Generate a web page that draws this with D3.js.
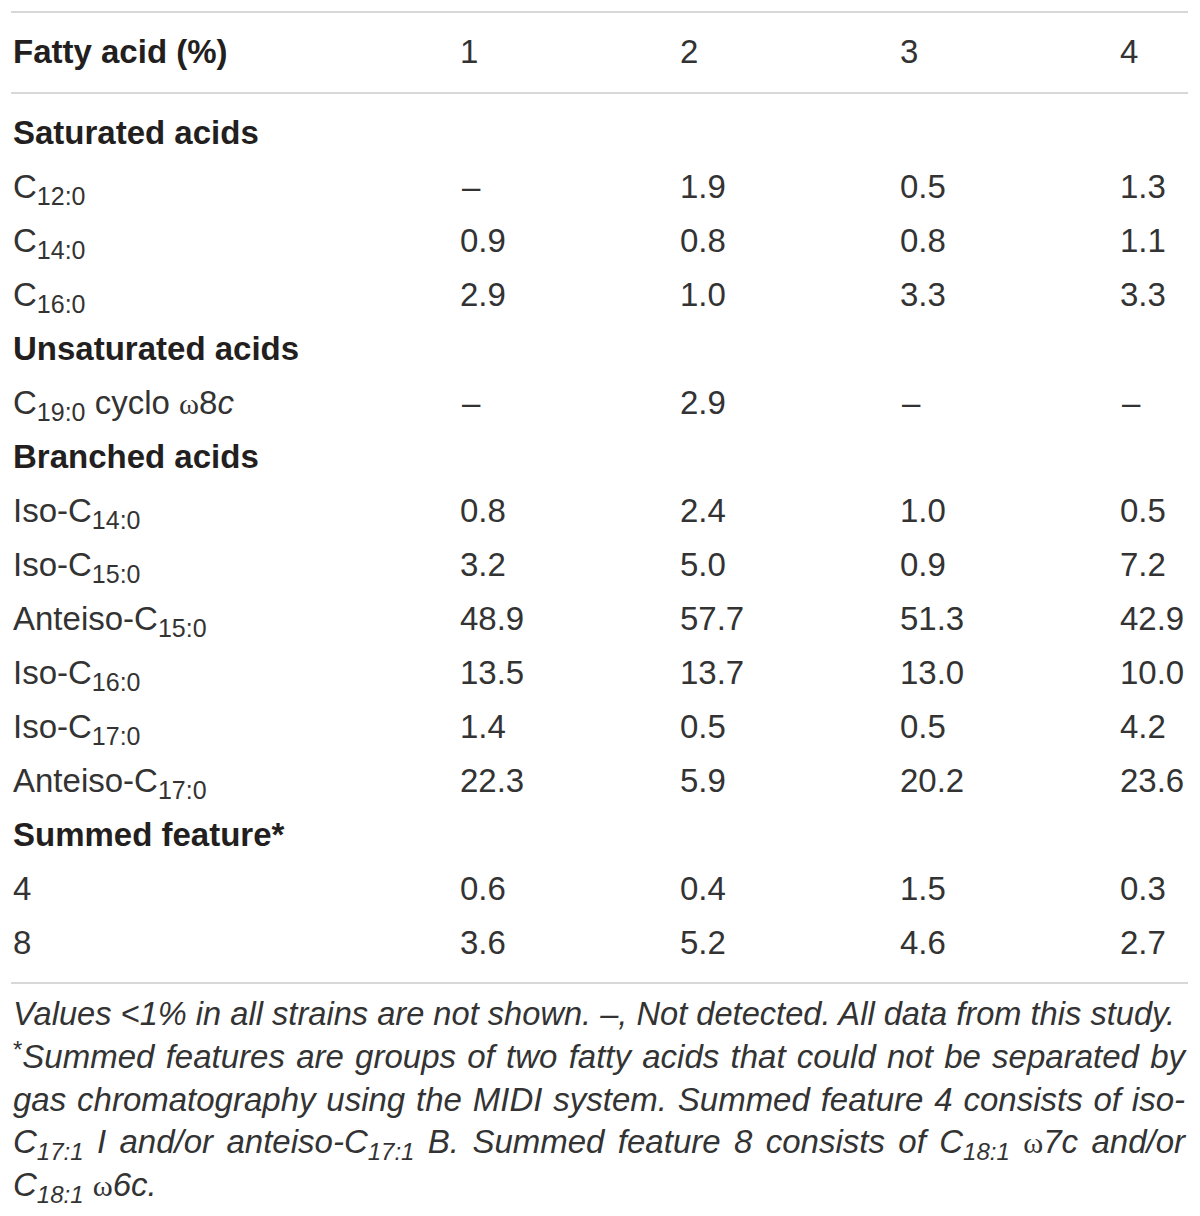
<!DOCTYPE html>
<html><head><meta charset="utf-8">
<script src="https://cdn.jsdelivr.net/npm/d3@7"></script>
<style>body{margin:0;background:#fff}</style>
</head><body><svg id="c" width="1200" height="1216"></svg>
<script>
// ---------- data ----------
const columns = ["1", "2", "3", "4"];
const headerLabel = "Fatty acid (%)";
const groupNames = ["Saturated acids", "Unsaturated acids", "Branched acids", "Summed feature*"];
// markup: _{..} subscript, ^{..} superscript, |..| italic, ω rendered in serif
const acidLabels = [
  "C_{12:0}", "C_{14:0}", "C_{16:0}",
  "C_{19:0} cyclo ω8|c|",
  "Iso-C_{14:0}", "Iso-C_{15:0}", "Anteiso-C_{15:0}", "Iso-C_{16:0}", "Iso-C_{17:0}", "Anteiso-C_{17:0}",
  "4", "8"
];
const acidGroup = [0, 0, 0, 1, 2, 2, 2, 2, 2, 2, 3, 3];
const strain1 = [null, 0.9, 2.9, null, 0.8, 3.2, 48.9, 13.5, 1.4, 22.3, 0.6, 3.6];
const strain2 = [1.9, 0.8, 1.0, 2.9, 2.4, 5.0, 57.7, 13.7, 0.5, 5.9, 0.4, 5.2];
const strain3 = [0.5, 0.8, 3.3, null, 1.0, 0.9, 51.3, 13.0, 0.5, 20.2, 1.5, 4.6];
const strain4 = [1.3, 1.1, 3.3, null, 0.5, 7.2, 42.9, 10.0, 4.2, 23.6, 0.3, 2.7];
const footnoteLines = [
  "Values <1% in all strains are not shown. –, Not detected. All data from this study.",
  "^{*}Summed features are groups of two fatty acids that could not be separated by",
  "gas chromatography using the MIDI system. Summed feature 4 consists of iso-",
  "C_{17:1} I and/or anteiso-C_{17:1} B. Summed feature 8 consists of C_{18:1} ω7c and/or",
  "C_{18:1} ω6c."
];

// ---------- build rows ----------
const strains = [strain1, strain2, strain3, strain4];
const rows = [];
let lastG = -1;
acidLabels.forEach((lab, i) => {
  if (acidGroup[i] !== lastG) { rows.push({type: "group", label: groupNames[acidGroup[i]]}); lastG = acidGroup[i]; }
  rows.push({type: "acid", label: lab, values: strains.map(s => s[i])});
});

const svg = d3.select("#c");
const FONT = "'Liberation Sans', Arial, Helvetica, sans-serif";
const TXT = "#333333";
const BOLD = "#231f20";
const x = d3.scalePoint().domain(columns).range([460, 1120]);
const y = d3.scalePoint().domain(d3.range(rows.length)).range([144, 954]);
const labelX = 13;
const fmt = d3.format(".1f");

// rules
const rules = [12, 93, 983];
svg.selectAll("line.rule").data(rules).join("line")
  .attr("x1", 11).attr("x2", 1188).attr("y1", d => d).attr("y2", d => d)
  .attr("stroke", "#cbcbcb").attr("stroke-width", 1.6);

// rich text helper
function rich(textSel, str, o) {
  const parts = str.split(/(_\{[^}]*\}|\^\{[^}]*\}|\|[^|]*\||ω)/).filter(s => s.length);
  let shift = 0;
  parts.forEach(p => {
    let t = p, size = o.size, dy = 0, style = o.italic ? "italic" : "normal", fam = FONT;
    if (p.startsWith("_{")) { t = p.slice(2, -1); size = o.sub; dy = o.subShift; }
    else if (p.startsWith("^{")) { t = p.slice(2, -1); size = o.sub; dy = -o.supShift; style = "normal"; }
    else if (p.startsWith("|")) { t = p.slice(1, -1); style = "italic"; }
    else if (p === "ω") { fam = "'Liberation Serif', 'DejaVu Serif', serif"; style = "normal"; size = o.size * 0.92; }
    textSel.append("tspan").attr("dy", dy - shift).attr("font-size", size)
      .attr("font-style", style).attr("font-family", fam).text(t);
    shift = dy;
  });
}

// header
svg.append("text").attr("x", labelX).attr("y", 63).attr("font-family", FONT)
  .attr("font-size", 33).attr("font-weight", "bold").attr("fill", BOLD).text(headerLabel);
svg.selectAll("text.colh").data(columns).join("text").attr("class", "colh")
  .attr("x", d => x(d)).attr("y", 63).attr("font-family", FONT).attr("font-size", 33)
  .attr("fill", TXT).text(d => d);

// body rows
rows.forEach((r, i) => {
  const t = svg.append("text").attr("x", labelX).attr("y", y(i)).attr("font-family", FONT)
    .attr("font-size", 33).attr("fill", TXT);
  if (r.type === "group") {
    t.attr("font-weight", "bold").attr("fill", BOLD).text(r.label);
  } else {
    rich(t, r.label, {size: 33, sub: 25, subShift: 7, supShift: 10, italic: false});
    svg.selectAll(null).data(r.values.map((v, k) => ({v, c: columns[k]}))).join("text")
      .attr("x", d => x(d.c) + (d.v === null ? 2 : 0)).attr("y", y(i))
      .attr("font-family", FONT).attr("font-size", 33).attr("fill", TXT)
      .text(d => d.v === null ? "–" : fmt(d.v));
  }
});

// footnote
const fy = d3.scaleLinear().domain([0, footnoteLines.length - 1]).range([1025, 1196]);
const targets = [1162, 1172, 1172, 1172, null];
footnoteLines.forEach((line, i) => {
  const t = svg.append("text").attr("x", labelX).attr("y", fy(i)).attr("font-family", FONT)
    .attr("font-size", 33).attr("font-style", "italic").attr("fill", "#333");
  rich(t, line, {size: 33, sub: 24, subShift: 7, supShift: 10, italic: true});
  const target = targets[i];
  if (target) {
    const nat = t.node().getComputedTextLength();
    if (nat > target) {
      t.attr("textLength", target).attr("lengthAdjust", "spacingAndGlyphs");
    } else {
      const spaces = (line.match(/ /g) || []).length;
      t.style("word-spacing", ((target - nat) / spaces) + "px");
    }
  }
});
</script></body></html>
